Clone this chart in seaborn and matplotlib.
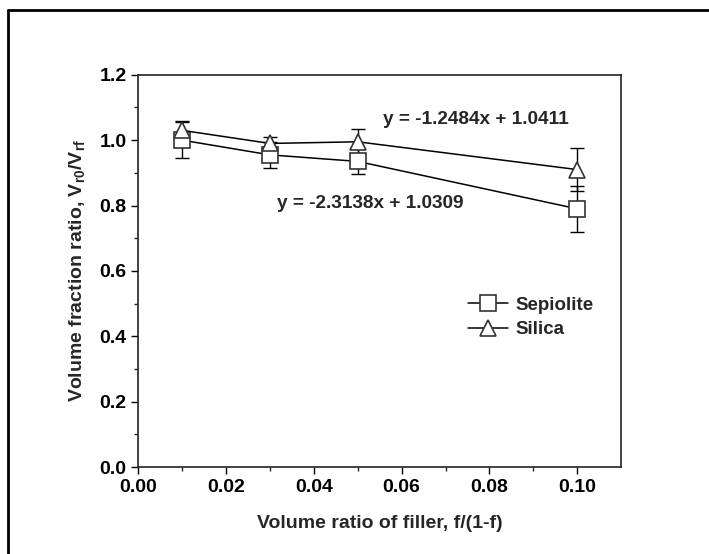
import pandas as pd
import matplotlib.pyplot as plt
import seaborn as sns
from matplotlib.lines import Line2D

# Data
filler_ratio = [0.01, 0.03, 0.05, 0.10]
sepiolite = [1.00, 0.955, 0.935, 0.79]
sepiolite_err = [0.055, 0.04, 0.04, 0.07]
silica = [1.03, 0.99, 0.995, 0.91]
silica_err = [0.03, 0.02, 0.04, 0.065]
series_names = ["Sepiolite", "Silica"]
fit_sepiolite = "y = -2.3138x + 1.0309"
fit_silica = "y = -1.2484x + 1.0411"

sns.set_style("ticks")
plt.rcParams['font.family'] = ['Liberation Sans', 'DejaVu Sans']
plt.rcParams['font.weight'] = 'bold'
plt.rcParams['mathtext.fontset'] = 'custom'
plt.rcParams['mathtext.rm'] = 'Liberation Sans:bold'
plt.rcParams['mathtext.bf'] = 'Liberation Sans:bold'

df = pd.DataFrame({
    'x': filler_ratio * 2,
    'y': sepiolite + silica,
    'err': sepiolite_err + silica_err,
    'filler': [series_names[0]] * 4 + [series_names[1]] * 4,
})

fig = plt.figure(figsize=(7.09, 5.54), dpi=100)
ax = fig.add_axes([0.195, 0.157, 0.681, 0.708])

markers = {"Sepiolite": "s", "Silica": "^"}
for name, grp in df.groupby('filler'):
    ax.errorbar(grp['x'], grp['y'], yerr=grp['err'], fmt='none',
                ecolor='black', elinewidth=1, capsize=5, capthick=1, zorder=2)

sns.lineplot(data=df, x='x', y='y', hue='filler', style='filler',
             palette={"Sepiolite": "black", "Silica": "black"},
             markers=markers, dashes=False, ax=ax, legend=False,
             linewidth=1.1, markersize=11, markerfacecolor='white',
             markeredgecolor='#333333', markeredgewidth=1.2, zorder=3)

ax.set_xlim(0, 0.11)
ax.set_ylim(0, 1.2)
ax.set_xticks([0.00, 0.02, 0.04, 0.06, 0.08, 0.10])
ax.set_yticks([0.0, 0.2, 0.4, 0.6, 0.8, 1.0, 1.2])
ax.set_xticks([0.01, 0.03, 0.05, 0.07, 0.09], minor=True)
ax.set_yticks([0.1, 0.3, 0.5, 0.7, 0.9, 1.1], minor=True)
ax.set_xticklabels(['0.00', '0.02', '0.04', '0.06', '0.08', '0.10'])
ax.set_yticklabels(['0.0', '0.2', '0.4', '0.6', '0.8', '1.0', '1.2'])
ax.tick_params(axis='both', which='major', direction='out', length=5,
               width=1, labelsize=14, colors='black')
ax.tick_params(axis='both', which='minor', direction='out', length=3, width=1)
for s in ax.spines.values():
    s.set_linewidth(1.2)
    s.set_color('#222222')

ax.set_xlabel('Volume ratio of filler, f/(1-f)', fontsize=14,
              fontweight='bold', labelpad=14)
ax.set_ylabel(r'Volume fraction ratio, V$_{\mathbf{r0}}$/V$_{\mathbf{rf}}$',
              fontsize=14, fontweight='bold', labelpad=8)

ax.text(0.0558, 1.063, fit_silica, fontsize=13.7, fontweight='bold', va='center')
ax.text(0.0317, 0.805, fit_sepiolite, fontsize=13.7, fontweight='bold', va='center')

handles = [
    Line2D([], [], color='black', linewidth=1.1, marker=markers[n], markersize=11,
           markerfacecolor='white', markeredgecolor='#333333', markeredgewidth=1.2)
    for n in series_names
]
leg = ax.legend(handles, series_names, loc='center left',
                bbox_to_anchor=(0.0752, 0.4575), bbox_transform=ax.transData,
                frameon=False, fontsize=13.5, borderpad=0, borderaxespad=0,
                handlelength=2.13, handletextpad=0.37, labelspacing=0.37)

# outer frame (top and left edges only, as in the reference crop)
fig.add_artist(Line2D([8 / 709, 1], [1 - 10 / 554, 1 - 10 / 554],
                      color='black', linewidth=2, transform=fig.transFigure))
fig.add_artist(Line2D([8 / 709, 8 / 709], [0, 1 - 10 / 554],
                      color='black', linewidth=2, transform=fig.transFigure))

plt.savefig('out.png', dpi=100)
